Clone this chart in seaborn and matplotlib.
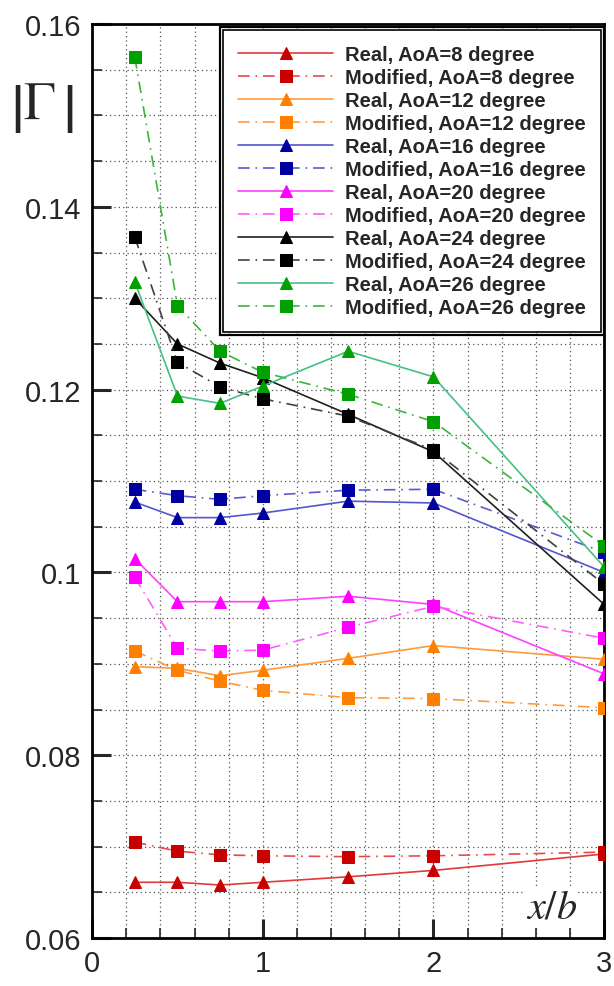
import matplotlib
matplotlib.use("Agg")
from matplotlib import pyplot as plt
from matplotlib.patches import Rectangle
import numpy as np
import seaborn as sns

# x/b stations
x_b = [0.25, 0.5, 0.75, 1.0, 1.5, 2.0, 3.0]

# |Gamma| values
real_8 = [0.0661, 0.0661, 0.0658, 0.0661, 0.0667, 0.0674, 0.0692]
mod_8 = [0.0705, 0.0695, 0.0691, 0.0690, 0.0689, 0.0690, 0.0694]
real_12 = [0.0897, 0.0895, 0.0887, 0.0893, 0.0906, 0.0920, 0.0905]
mod_12 = [0.0914, 0.0893, 0.0881, 0.0871, 0.0863, 0.0862, 0.0852]
real_16 = [0.1077, 0.1060, 0.1060, 0.1065, 0.1078, 0.1076, 0.1000]
mod_16 = [0.1091, 0.1084, 0.1080, 0.1084, 0.1090, 0.1091, 0.1022]
real_20 = [0.1015, 0.0968, 0.0968, 0.0968, 0.0974, 0.0965, 0.0889]
mod_20 = [0.0995, 0.0917, 0.0914, 0.0915, 0.0940, 0.0963, 0.0928]
real_24 = [0.1300, 0.1250, 0.1229, 0.1213, 0.1173, 0.1132, 0.0965]
mod_24 = [0.1367, 0.1230, 0.1203, 0.1190, 0.1171, 0.1134, 0.0987]
real_26 = [0.1318, 0.1193, 0.1185, 0.1204, 0.1242, 0.1214, 0.1006]
mod_26 = [0.1564, 0.1292, 0.1242, 0.1219, 0.1195, 0.1165, 0.1029]

aoa = [8, 12, 16, 20, 24, 26]
real_all = [real_8, real_12, real_16, real_20, real_24, real_26]
mod_all = [mod_8, mod_12, mod_16, mod_20, mod_24, mod_26]

# (line colour, marker colour) for real / modified
real_colors = [("#e03a3a", "#c80000"), ("#ff9a3c", "#ff8000"), ("#5555cc", "#0000a0"),
               ("#ff40ff", "#ff00ff"), ("#202020", "#000000"), ("#45c085", "#00a000")]
mod_colors = [("#e84a4a", "#c80000"), ("#ff9a3c", "#ff8000"), ("#5a5ad0", "#0000a0"),
              ("#ff5cff", "#ff00ff"), ("#404040", "#000000"), ("#3cb43c", "#00a000")]

sns.set_style("white")
plt.rcParams["font.family"] = ["Liberation Sans", "DejaVu Sans"]
plt.rcParams["mathtext.fontset"] = "stix"

fig = plt.figure(figsize=(6.14, 9.87), dpi=100)
ax = fig.add_axes([0.150, 0.0486, 0.834, 0.926])

dashdot = (0, (7, 3.5, 1, 3.5))
handles = []
for i, a in enumerate(aoa):
    lc, mc = real_colors[i]
    sns.lineplot(x=x_b, y=real_all[i], ax=ax, color=lc, linewidth=1.2, marker="^",
                 markersize=8, markerfacecolor=mc, markeredgecolor=mc, zorder=3)
    handles.append((ax.get_lines()[-1], f"Real, AoA={a} degree"))
    lc, mc = mod_colors[i]
    sns.lineplot(x=x_b, y=mod_all[i], ax=ax, color=lc, linewidth=1.2, marker="s",
                 markersize=8, markerfacecolor=mc, markeredgecolor=mc, zorder=3)
    ax.get_lines()[-1].set_linestyle(dashdot)
    handles.append((ax.get_lines()[-1], f"Modified, AoA={a} degree"))

ax.set_xlim(0, 3)
ax.set_ylim(0.06, 0.16)
ax.set_xticks([0, 1, 2, 3])
ax.set_xticklabels(["0", "1", "2", "3"])
ax.set_xticks(np.arange(0, 3.01, 0.2), minor=True)
ax.set_yticks([0.06, 0.08, 0.1, 0.12, 0.14, 0.16])
ax.set_yticklabels(["0.06", "0.08", "0.1", "0.12", "0.14", "0.16"])
ax.set_yticks(np.arange(0.06, 0.1601, 0.005), minor=True)
ax.tick_params(which="major", direction="in", length=14, width=2.2, labelsize=21, pad=8,
               bottom=True, left=True, top=False, right=False)
ax.tick_params(which="minor", direction="in", length=7, width=1.2,
               bottom=True, left=True, top=False, right=False)
ax.grid(True, which="both", linestyle=(0, (1, 2.5)), color="#555555", linewidth=0.9)
for sp in ax.spines.values():
    sp.set_linewidth(2)
    sp.set_color("black")
ax.set_xlabel("")
ax.set_ylabel("")

ax.text(2.69, 0.0635, r"$x/b$", fontsize=29, ha="center", va="center",
        bbox=dict(facecolor="white", edgecolor="none", pad=1))

# |Gamma| label, delimiters stretched a bit above and below the letter
fig.text(0.068, 0.890, r"$\left|\Gamma^{\,}_{\,}\right|$", fontsize=38,
         ha="center", va="center")

leg = ax.legend([h for h, _ in handles], [t for _, t in handles], loc="upper right",
                bbox_to_anchor=(0.994, 0.994), borderaxespad=0, fancybox=False,
                framealpha=1, edgecolor="black", handlelength=4.7, handletextpad=0.6,
                labelspacing=0.2, borderpad=0.75, prop={"weight": "bold", "size": 14.5})
leg.get_frame().set_linewidth(1.2)
leg.set_zorder(5)

fig.canvas.draw()
bb = leg.get_window_extent().transformed(ax.transAxes.inverted())
pw = 3 / (ax.get_window_extent().width)
ph = 3 / (ax.get_window_extent().height)
ax.add_patch(Rectangle((bb.x0 - pw, bb.y0 - ph), bb.width + 2 * pw, bb.height + 2 * ph,
                       transform=ax.transAxes, fill=False, edgecolor="black",
                       linewidth=1.6, zorder=6, clip_on=False))

plt.savefig("out.png", dpi=100)
